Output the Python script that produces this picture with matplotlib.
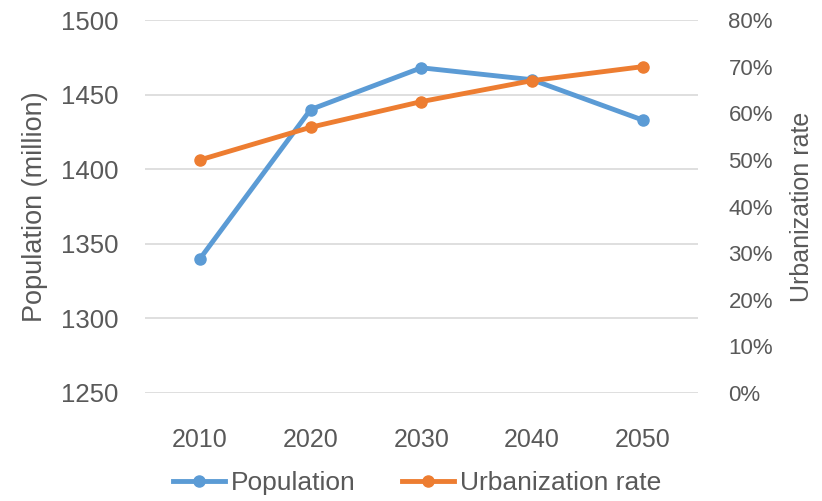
import matplotlib
matplotlib.use("Agg")
import matplotlib.pyplot as plt
from matplotlib.ticker import FuncFormatter

years = ["2010", "2020", "2030", "2040", "2050"]
population = [1340, 1440, 1468, 1460, 1433]
urbanization = [50.0, 57.0, 62.5, 67.0, 70.0]

plt.rcParams['font.family'] = ['Liberation Sans', 'DejaVu Sans']
TXT = '#595959'
BLUE = '#5B9BD5'
ORANGE = '#ED7D31'

fig = plt.figure(figsize=(8.22, 5.01), dpi=100)
ax = fig.add_axes([0.176, 0.2156, 0.673, 0.7444])
ax2 = ax.twinx()

x = list(range(len(years)))
l1, = ax.plot(x, population, color=BLUE, lw=3.5, marker='o', ms=8, label='Population')
l2, = ax2.plot(x, urbanization, color=ORANGE, lw=3.5, marker='o', ms=8, label='Urbanization rate')

ax.set_xlim(-0.5, len(years) - 0.5)
ax.set_ylim(1250, 1500)
ax.set_yticks([1250, 1300, 1350, 1400, 1450, 1500])
ax2.set_ylim(0, 80)
ax2.set_yticks(range(0, 81, 10))
ax2.yaxis.set_major_formatter(FuncFormatter(lambda v, p: f"{int(v)}%"))
ax.set_xticks(x)
ax.set_xticklabels(years)

ax.grid(axis='y', color='#D9D9D9', lw=1.2)
ax.set_axisbelow(True)
for a in (ax, ax2):
    for s in a.spines.values():
        s.set_visible(False)
    a.tick_params(length=0, colors=TXT)
ax.tick_params(axis='y', labelsize=18.5, pad=19)
ax.tick_params(axis='x', labelsize=18, pad=25)
ax2.tick_params(axis='y', labelsize=16, pad=22)

ax.set_ylabel('Population (million)', fontsize=19.5, color=TXT, labelpad=9)
ax2.set_ylabel('Urbanization rate', fontsize=18, color=TXT, labelpad=12)

fig.legend(handles=[l1, l2], loc='lower center', bbox_to_anchor=(0.507, -0.035), ncol=2,
           frameon=False, fontsize=19, labelcolor=TXT, handlelength=2.0, columnspacing=1.75,
           handletextpad=0.2)

fig.savefig('out.png', dpi=100)
